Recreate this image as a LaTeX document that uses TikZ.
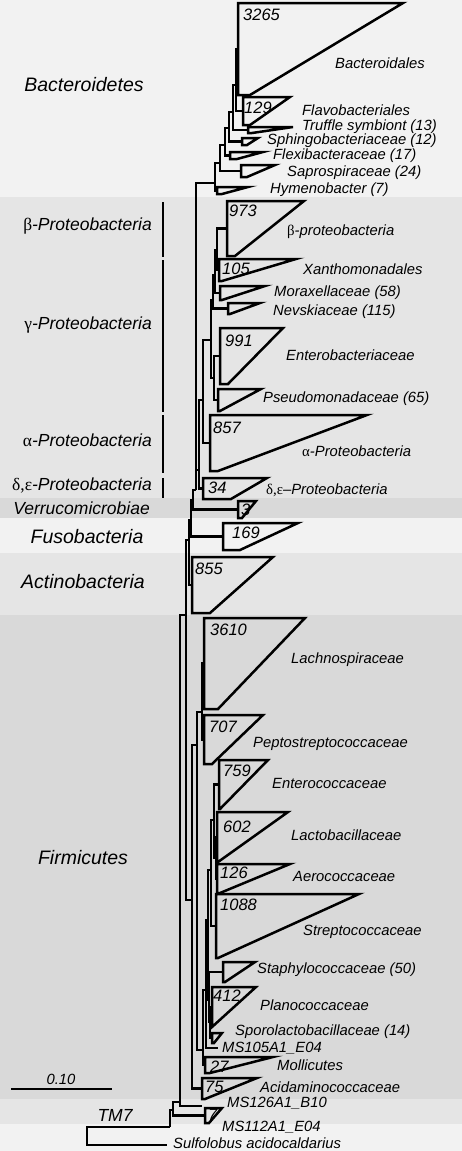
\documentclass[tikz,border=0pt]{standalone}
\usepackage{fontspec}
\setmainfont{Liberation Sans}
\newfontfamily\grkfont{Liberation Serif}
\newcommand{\gr}[1]{{\grkfont\upshape #1}}
\definecolor{bandlt}{gray}{0.95}
\definecolor{bandmd}{gray}{0.9}
\definecolor{banddk}{gray}{0.85}
% collapsed clade: name, left x, top y, tip x, bottom y, bottom x
\newcommand{\clade}[6]{%
  \draw[tri] (#2,#3) -- (#4,#3) -- (#6,#5) -- (#2,#5) -- cycle;
  \coordinate (#1) at (#2,{(#3+#5)/2});}

\begin{document}
\begin{tikzpicture}[x=1pt, y=-1pt,
  br/.style = {line width=2.5pt},
  tri/.style = {line width=2.5pt},
  bar/.style = {line width=2.2pt},
  lab/.style = {font=\fontsize{14.8}{17}\selectfont\itshape, anchor=west, inner sep=0pt},
  num/.style = {font=\fontsize{16.5}{19}\selectfont\itshape, anchor=west, inner sep=0pt},
  grp/.style = {font=\fontsize{17.5}{20}\selectfont\itshape, inner sep=0pt},
  phy/.style = {font=\fontsize{19.5}{22}\selectfont\itshape, inner sep=0pt}]

	% bands
	\fill[bandlt] (0,0) rectangle (462,197);
	\fill[bandmd] (0,197) rectangle (462,498);
	\fill[banddk] (0,498) rectangle (462,518);
	\fill[bandlt] (0,518) rectangle (462,553);
	\fill[bandmd] (0,553) rectangle (462,615);
	\fill[banddk] (0,615) rectangle (462,1099);
	\fill[bandmd] (0,1099) rectangle (462,1124);
	\fill[bandlt] (0,1124) rectangle (462,1151);
	\useasboundingbox (0,0) rectangle (462,1151);

	% group labels
	\node[phy] (gbact) at (84,85) {Bacteroidetes};
	\node[grp, anchor=east] (gbeta) at (152,226) {\gr{β}-Proteobacteria};
	\node[grp, anchor=east] (ggamma) at (152,325) {\gr{γ}-Proteobacteria};
	\node[grp, anchor=east] (galpha) at (152,440) {\gr{α}-Proteobacteria};
	\node[grp, anchor=east] (gde) at (152,485) {\gr{δ,ε}-Proteobacteria};
	\node[grp, anchor=east] (gverr) at (150,508) {Verrucomicrobiae};
	\node[phy] (gfuso) at (87,537) {Fusobacteria};
	\node[phy] (gact) at (83,582) {Actinobacteria};
	\node[phy] (gfirm) at (83,858) {Firmicutes};
	\node[grp] (gtm) at (115,1115) {TM7};

	\draw[bar] (163,202) -- (163,257);
	\draw[bar] (163,260) -- (163,412);
	\draw[bar] (163,415) -- (163,473);
	\draw[bar] (163,478) -- (163,498);

	% scale
	\draw[br] (11,1089) -- (112,1089);
	\node[font=\fontsize{14.8}{17}\selectfont\itshape, inner sep=0pt] (scl) at (61,1079) {0.10};

	% collapsed clades
	\clade{bactales}{238}{3}{403}{95}{250}
	\clade{flavo}{243}{97}{290}{125}{250}
	\clade{truffle}{248}{127}{293}{133}{252}
	\clade{sphingo}{242}{138}{258}{145}{247}
	\clade{flexi}{230}{152}{263}{159}{237}
	\clade{sapro}{241}{165}{275}{177}{247}
	\clade{hymeno}{217}{187}{248}{194}{222}
	\clade{beta}{227}{201}{304}{256}{235}
	\clade{xanth}{219}{259}{296}{281}{222}
	\clade{morax}{220}{286}{265}{300}{222}
	\clade{nevsk}{228}{303}{260}{314}{230}
	\clade{entb}{220}{328}{283}{384}{228}
	\clade{pseudo}{218}{389}{261}{411}{220}
	\clade{alpha}{210}{415}{367}{471}{218}
	\clade{de}{203}{478}{267}{499}{231}
	\clade{verr}{238}{501}{256}{518}{242}
	\clade{fuso}{223}{523}{298}{550}{240}
	\clade{actino}{192}{557}{273}{613}{210}
	\clade{lachno}{204}{618}{305}{709}{218}
	\clade{pepto}{204}{715}{263}{764}{212}
	\clade{entc}{219}{760}{268}{809}{220}
	\clade{lacto}{217}{812}{288}{862}{218}
	\clade{aero}{217}{864}{290}{893}{220}
	\clade{strep}{216}{894}{359}{958}{218}
	\clade{staph}{223}{962}{255}{982}{225}
	\clade{plano}{212}{987}{256}{1027}{212}
	\clade{sporo}{212}{1033}{222}{1043}{214}
	\clade{molli}{205}{1057}{273}{1073}{210}
	\clade{acid}{202}{1078}{257}{1099}{205}
	\clade{tmseven}{205}{1108}{222}{1123}{209}

	% inner nodes
	\coordinate (r) at (87,1136);
	\coordinate (sulf) at (167,1145);
	\coordinate (s) at (170,1127);
	\coordinate (t) at (173,1110);
	\coordinate (u) at (180,1102);
	\coordinate (ms126) at (202,1106);
	\coordinate (v) at (186,615);
	\coordinate (w) at (189,540);
	\coordinate (n1) at (191,520);
	\coordinate (n2) at (193,500);
	\coordinate (n3) at (196,490);
	\coordinate (p0) at (199,470);
	\coordinate (p1) at (203,400);
	\coordinate (p2) at (211,340);
	\coordinate (p3) at (213,300);
	\coordinate (p4) at (214,378);
	\coordinate (p5) at (215,275);
	\coordinate (p6) at (217,250);
	\coordinate (na) at (215,183);
	\coordinate (nb) at (220,163);
	\coordinate (nc) at (225,145);
	\coordinate (nd) at (229,128);
	\coordinate (ne) at (233,112);
	\coordinate (nf) at (236,85);
	\coordinate (fa) at (192,900);
	\coordinate (fb) at (197,745);
	\coordinate (fc) at (202,712);
	\coordinate (fd) at (203,1050);
	\coordinate (fe) at (206,990);
	\coordinate (ms105) at (218,1048);
	\coordinate (ff) at (208,920);
	\coordinate (fg) at (211,870);
	\coordinate (fj) at (214,820);
	\coordinate (fk) at (216,858);
	\coordinate (fi) at (209,1000);
	\coordinate (fl) at (210,1022);

	% branches
	\draw[br] (r) |- (sulf) (r) |- (s);
	\draw[br] (s) |- (t);
	\draw[br] (t) |- (u) (t) |- (tmseven);
	\draw[br] (u) |- (v) (u) |- (ms126);
	\draw[br] (v) |- (w) (v) |- (fa);
	\draw[br] (w) |- (n1) (w) |- (actino);
	\draw[br] (n1) |- (n2) (n1) |- (fuso);
	\draw[br] (n2) |- (n3) (n2) |- (verr);
	\draw[br] (n3) |- (na) (n3) |- (p0);
	\draw[br] (p0) |- (p1) (p0) |- (de);
	\draw[br] (p1) |- (p2) (p1) |- (alpha);
	\draw[br] (p2) |- (p3) (p2) |- (p4);
	\draw[br] (p4) |- (entb) (p4) |- (pseudo);
	\draw[br] (p3) |- (p5) (p3) |- (nevsk);
	\draw[br] (p5) |- (p6) (p5) |- (morax);
	\draw[br] (p6) |- (beta) (p6) |- (xanth);
	\draw[br] (na) |- (hymeno) (na) |- (nb);
	\draw[br] (nb) |- (nc) (nb) |- (sapro);
	\draw[br] (nc) |- (nd) (nc) |- (flexi);
	\draw[br] (nd) |- (ne) (nd) |- (sphingo);
	\draw[br] (ne) |- (nf) (ne) |- (truffle);
	\draw[br] (nf) |- (bactales) (nf) |- (flavo);
	\draw[br] (fa) |- (fb) (fa) |- (acid);
	\draw[br] (fb) |- (fc) (fb) |- (fd);
	\draw[br] (fc) |- (lachno) (fc) |- (pepto);
	\draw[br] (fd) |- (fe) (fd) |- (molli);
	\draw[br] (fe) |- (ff) (fe) |- (ms105);
	\draw[br] (ff) |- (fg) (ff) |- (fi);
	\draw[br] (fg) |- (fj) (fg) |- (strep);
	\draw[br] (fj) |- (entc) (fj) |- (fk);
	\draw[br] (fk) |- (lacto) (fk) |- (aero);
	\draw[br] (fi) |- (staph) (fi) |- (fl);
	\draw[br] (fl) |- (plano) (fl) |- (sporo);

	% clade sizes
	\node[num] (c1) at (243,15) {3265};
	\node[num] (c2) at (244,108) {129};
	\node[num] (c3) at (229,211) {973};
	\node[num] (c4) at (222,269) {105};
	\node[num] (c5) at (225,341) {991};
	\node[num] (c6) at (213,428) {857};
	\node[num] (c7) at (208,488) {34};
	\node[num] (c8) at (241,510) {3};
	\node[num] (c9) at (232,533) {169};
	\node[num] (c10) at (195,569) {855};
	\node[num] (c11) at (210,630) {3610};
	\node[num] (c12) at (209,727) {707};
	\node[num] (c13) at (223,771) {759};
	\node[num] (c14) at (223,827) {602};
	\node[num] (c15) at (220,873) {126};
	\node[num] (c16) at (220,905) {1088};
	\node[num] (c17) at (213,996) {412};
	\node[num] (c18) at (210,1067) {27};
	\node[num] (c19) at (205,1087) {75};
	\node[num] (c20) at (208,1115) {7};

	% clade names
	\node[lab] (l1) at (335,63) {Bacteroidales};
	\node[lab] (l2) at (302,110) {Flavobacteriales};
	\node[lab] (l3) at (302,127) {Truffle symbiont (13)};
	\node[lab] (l4) at (267,141) {Sphingobacteriaceae (12)};
	\node[lab] (l5) at (273,156) {Flexibacteraceae (17)};
	\node[lab] (l6) at (287,173) {Saprospiraceae (24)};
	\node[lab] (l7) at (270,190) {Hymenobacter (7)};
	\node[lab] (l8) at (287,232) {\gr{β}-proteobacteria};
	\node[lab] (l9) at (303,269) {Xanthomonadales};
	\node[lab] (l10) at (274,293) {Moraxellaceae (58)};
	\node[lab] (l11) at (273,312) {Nevskiaceae (115)};
	\node[lab] (l12) at (286,355) {Enterobacteriaceae};
	\node[lab] (l13) at (263,399) {Pseudomonadaceae (65)};
	\node[lab] (l14) at (302,451) {\gr{α}-Proteobacteria};
	\node[lab] (l15) at (266,490) {\gr{δ,ε}--Proteobacteria};
	\node[lab] (l16) at (291,660) {Lachnospiraceae};
	\node[lab] (l17) at (253,744) {Peptostreptococcaceae};
	\node[lab] (l18) at (272,783) {Enterococcaceae};
	\node[lab] (l19) at (291,835) {Lactobacillaceae};
	\node[lab] (l20) at (293,876) {Aerococcaceae};
	\node[lab] (l21) at (303,932) {Streptococcaceae};
	\node[lab] (l22) at (257,970) {Staphylococcaceae (50)};
	\node[lab] (l23) at (260,1005) {Planococcaceae};
	\node[lab] (l24) at (235,1032) {Sporolactobacillaceae (14)};
	\node[lab] (l25) at (222,1048) {MS105A1\_E04};
	\node[lab] (l26) at (277,1065) {Mollicutes};
	\node[lab] (l27) at (260,1087) {Acidaminococcaceae};
	\node[lab] (l28) at (227,1103) {MS126A1\_B10};
	\node[lab] (l29) at (222,1127) {MS112A1\_E04};
	\node[lab] (l30) at (173,1143) {Sulfolobus acidocaldarius};

\end{tikzpicture}
\end{document}
